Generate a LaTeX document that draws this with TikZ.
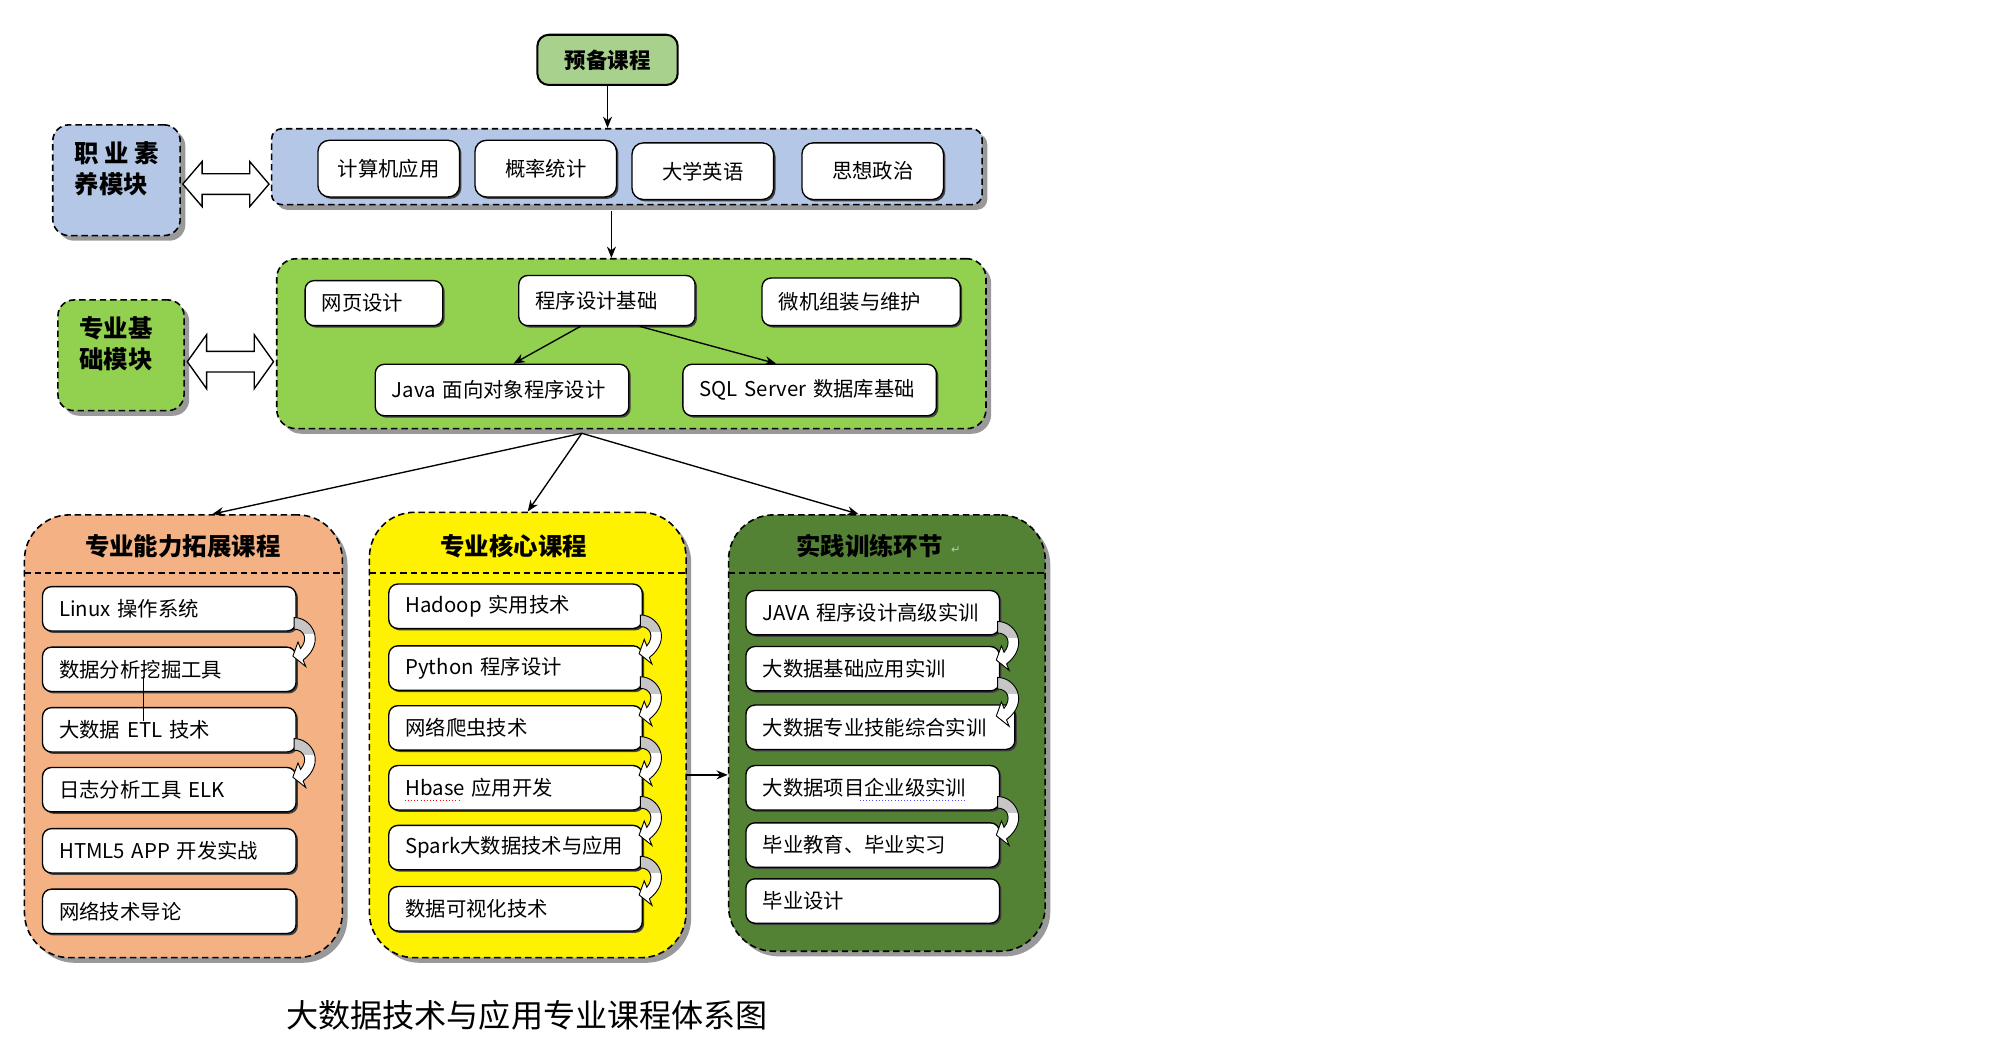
\documentclass[tikz,border=0pt]{standalone}
\usepackage{fontspec}
\setmainfont{Noto Sans CJK SC}
\newfontfamily\symfont{DejaVu Sans}
\usetikzlibrary{positioning,shadows,fit,calc,arrows.meta}
\definecolor{prepgreen}{HTML}{A9D18E}
\definecolor{modblue}{HTML}{B4C7E7}
\definecolor{basegreen}{HTML}{92D050}
\definecolor{extorange}{HTML}{F4B183}
\definecolor{darkgreen}{HTML}{548235}
\def\wanpath{(-2,-11) .. controls (12,-11) and (23,8) .. (5,22) -- (7,27) -- (-3,19) -- (1,8) -- (3,13) .. controls (9,6) and (6,-2) .. (-2,-2) -- cycle}
\tikzset{
  cont/.style={draw,dash pattern=on 0.1cm off 0.06cm,line width=0.7pt,rounded corners=#1,inner sep=0pt,
    drop shadow={shadow xshift=0.08cm,shadow yshift=-0.08cm,fill=gray!80,opacity=1}},
  item/.style={draw,fill=white,rounded corners=4pt,line width=0.6pt,text width=#1,align=left,inner xsep=0.26cm,
    minimum height=0.69cm,drop shadow={shadow xshift=0.03cm,shadow yshift=-0.03cm,fill=black!75,opacity=1}},
  item/.default=3.42cm,
  tbox/.style={draw,fill=white,rounded corners=5pt,line width=0.6pt,minimum width=2.2cm,minimum height=0.88cm,
    drop shadow={shadow xshift=0.03cm,shadow yshift=-0.03cm,fill=black!75,opacity=1}},
  modbox/.style={cont=0.25cm},
  modtxt/.style={align=left,font=\fontsize{10.8}{13.6}\selectfont\bfseries},
  ttl/.style={font=\fontsize{10.8}{13}\selectfont\bfseries},
  sepline/.style={dash pattern=on 0.1cm off 0.06cm,line width=0.7pt},
  conn/.style={->,line width=0.6pt},
  wan/.pic={
    \begin{scope}
      \clip \wanpath;
      \fill[white] (-5,-15) rectangle (25,30);
      \fill[gray!45] (-5,-15) rectangle (25,2);
    \end{scope}
    \draw[line width=0.4pt] \wanpath;
  },
  dblarr/.pic={
    \draw[fill=white,line width=0.6pt] (-33.5,0) -- (-18.5,-#1) -- (-18.5,-8) -- (18.5,-8) -- (18.5,-#1)
      -- (33.5,0) -- (18.5,#1) -- (18.5,8) -- (-18.5,8) -- (-18.5,#1) -- cycle;
  }
}
\begin{document}
\begin{tikzpicture}[x=0.02cm,y=-0.02cm,>={Stealth[length=5pt,width=4pt]},font=\fontsize{9}{11}\selectfont]
\useasboundingbox (0,0) rectangle (1560,812.6);
% top
\node[draw,fill=prepgreen,rounded corners=5pt,line width=0.9pt,minimum width=2.18cm,minimum height=0.78cm,
  font=\fontsize{9.5}{11}\selectfont\bfseries] (prep) at (472,46.5) {预备课程};
\node[cont=0.16cm,fill=modblue,fit={(211,100) (763,159)}] (gz) {};
\node[tbox] (jsj) at (302,131) {计算机应用};
\node[tbox] (gl) at (424,131) {概率统计};
\node[tbox] (dx) at (546,133) {大学英语};
\node[tbox] (sx) at (678,133) {思想政治};
\node[modbox,fill=modblue,fit={(41,97) (140,183)}] (zy) {};
\node[modtxt] (zyt) at (91,131) {职 业 素\\养模块};
\pic at ($(zy.east)!.5!(zy.east -| gz.west)+(0,3)$) {dblarr=17.5};
\draw[conn] (prep.south) -- (prep.south |- gz.north);
% base
\node[cont=0.3cm,fill=basegreen,fit={(215,201) (766,333)}] (jc) {};
\node[item=1.62cm,minimum height=0.7cm] (wy) at (290.5,235.5) {网页设计};
\node[item=2.22cm,minimum height=0.78cm] (cx) at (471.5,233.5) {程序设计基础};
\node[item=2.56cm,minimum height=0.74cm] (wj) at (669,234.5) {微机组装与维护};
\node[item,minimum height=0.8cm] (java) at (390,303) {Java 面向对象程序设计};
\node[item,minimum height=0.8cm] (sql) at (629,303) {SQL Server 数据库基础};
\node[modbox,fill=basegreen,fit={(45,233) (143,319)}] (zj) {};
\node[modtxt] (zjt) at (90,267) {专业基\\础模块};
\pic at ($(zj.east)!.5!(zj.east -| jc.west)+(0,5)$) {dblarr=21};
\draw[conn] ([xshift=-0.24cm,yshift=-0.08cm]gz.south) -- ([xshift=-0.24cm]gz.south |- jc.north);
\draw[conn] ([xshift=-0.41cm]cx.south) -- ([xshift=0.18cm]java.north);
\draw[conn] ([xshift=0.51cm]cx.south) -- ([xshift=-0.52cm]sql.north);
% three groups
\node[cont=0.7cm,fill=extorange,fit={(19,400) (266,744)}] (tz) {};
\node[cont=0.7cm,fill=yellow,fit={(287,398) (533,744)}] (hx) {};
\node[cont=0.7cm,fill=darkgreen,fit={(566,400) (812,739)}] (sj) {};
\draw[sepline] (19,445) -- (266,445) (287,445) -- (533,445) (566,445) -- (812,445);
\node[ttl] (tzbt) at (142,424) {专业能力拓展课程};
\node[ttl] (hxbt) at (399,424) {专业核心课程};
\node[ttl] (sjbt) at (675.5,424) {实践训练环节};
\node[right=-0.12cm of sjbt,yshift=-0.06cm,text=gray!50,font=\symfont\fontsize{5}{5}\selectfont] (hc) {↵};
\coordinate (fk) at ([xshift=-0.77cm,yshift=-0.06cm]jc.south);
\draw[conn] (fk) -- ([xshift=0.45cm]tz.north);
\draw[conn] (fk) -- (hx.north);
\draw[conn] (fk) -- ([xshift=-0.44cm]sj.north);
\draw[conn] ([yshift=-0.62cm]hx.east) -- ([yshift=-0.62cm]hx.east -| sj.west);
% orange
\node[item] (lx) at (131.5,473) {Linux 操作系统};
\node[item] (sjfx) at (131.5,520) {数据分析挖掘工具};
\node[item] (etl) at (131.5,567) {大数据 ETL 技术};
\node[item] (rz) at (131.5,613.5) {日志分析工具 ELK};
\node[item] (html) at (131.5,661) {HTML5 APP 开发实战};
\node[item] (wl) at (131.5,708) {网络技术导论};
\draw[very thin] ([xshift=-0.41cm,yshift=-0.1cm]sjfx.center) -- ([xshift=-0.41cm,yshift=0.14cm]etl.center);
\pic at (lx.south east) {wan};
\pic at (etl.south east) {wan};
% yellow
\node[item] (hd) at (400.5,471) {Hadoop 实用技术};
\node[item] (py) at (400.5,519) {Python 程序设计};
\node[item] (pc) at (400.5,565.5) {网络爬虫技术};
\node[item] (hb) at (400.5,612) {Hbase 应用开发};
\node[item] (sp) at (400.5,658.5) {Spark大数据技术与应用};
\node[item] (ks) at (400.5,706) {数据可视化技术};
\draw[red,densely dotted] ([xshift=0.26cm,yshift=-0.2cm]hb.west) -- ++(43,0);
\foreach \a in {hd,py,pc,hb,sp}
  \pic at (\a.south east) {wan};
% dark green
\node[item] (jv) at (678,476) {JAVA 程序设计高级实训};
\node[item] (jcyy) at (678,519.5) {大数据基础应用实训};
\node[item=3.66cm] (zyjn) at (684,565) {大数据专业技能综合实训};
\node[item] (qyj) at (678,612) {大数据项目企业级实训};
\node[item] (bj) at (678,656.5) {毕业教育、毕业实习};
\node[item] (bs) at (678,700) {毕业设计};
\draw[blue!70,densely dotted] ([xshift=1.78cm,yshift=-0.19cm]qyj.west) -- ++(82,0);
\foreach \a in {jv,jcyy,qyj}
  \pic at (\a.south east) {wan};
% caption
\node[font=\fontsize{14.2}{16}\selectfont] (bt) at (409.5,789) {大数据技术与应用专业课程体系图};
\end{tikzpicture}
\end{document}
